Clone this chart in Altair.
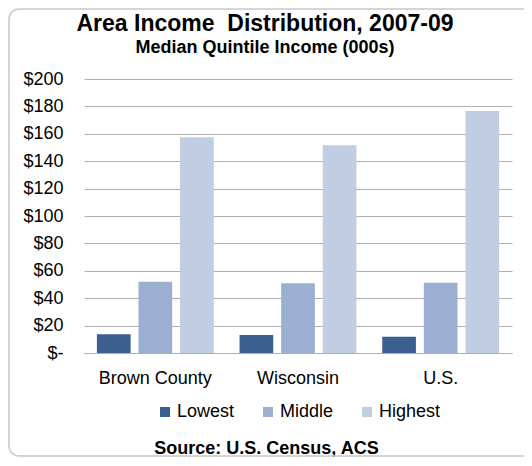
import altair as alt
import pandas as pd

regions = ["Brown County", "Wisconsin", "U.S."]
quintiles = ["Lowest", "Middle", "Highest"]
lowest = [13.6, 13.1, 11.9]
middle = [52.0, 50.9, 51.3]
highest = [157.4, 151.6, 176.6]
colors = ["#3b5f8f", "#9aafd2", "#c1cde2"]
y_ticks = [0, 20, 40, 60, 80, 100, 120, 140, 160, 180, 200]

rows = []
for i, r in enumerate(regions):
    for q, vals in zip(quintiles, [lowest, middle, highest]):
        rows.append({"region": r, "quintile": q, "value": vals[i]})
df = pd.DataFrame(rows)

FONT = "Liberation Sans"

bars = alt.Chart(df).mark_bar().encode(
    x=alt.X("region:N", sort=regions,
            scale=alt.Scale(paddingInner=0, paddingOuter=0),
            axis=alt.Axis(title="Source: U.S. Census, ACS", labelAngle=0,
                          labelFontSize=18, labelFont=FONT, labelColor="#000",
                          labelPadding=16, ticks=False, domain=True,
                          domainColor="#b0b0b0", titleFont=FONT, titleFontSize=18,
                          titleFontWeight="bold", titleColor="#000",
                          titleX=182, titleY=100, titleBaseline="alphabetic",
                          titleAlign="center")),
    xOffset=alt.XOffset("quintile:N", sort=quintiles,
                        scale=alt.Scale(paddingInner=0.19, paddingOuter=0.31)),
    y=alt.Y("value:Q", scale=alt.Scale(domain=[0, 200]),
            axis=alt.Axis(title=None, values=y_ticks, labelFontSize=18,
                          labelFont=FONT, labelColor="#000", labelPadding=21,
                          ticks=False, domain=False, gridColor="#b0b0b0",
                          labelExpr="datum.value == 0 ? '$-\u00a0\u00a0' : '$' + datum.value")),
    color=alt.Color("quintile:N", sort=quintiles,
                    scale=alt.Scale(domain=quintiles, range=colors),
                    legend=alt.Legend(title=None, orient="none", legendX=72, legendY=324,
                                      direction="horizontal", symbolType="square",
                                      symbolSize=100, symbolStrokeWidth=0,
                                      labelFontSize=18, labelFont=FONT, labelColor="#000",
                                      labelOffset=3, columnPadding=24)),
)

frame = alt.Chart(pd.DataFrame({"a": [0]})).mark_rect(
    fill=None, stroke="#c8c8c8", strokeWidth=1.5, cornerRadius=10
).encode(
    x=alt.value(-75), x2=alt.value(462), y=alt.value(-70), y2=alt.value(377)
)

chart = alt.layer(frame, bars).properties(
    width=428, height=274,
    autosize=alt.AutoSizeParams(type="none"),
    padding={"left": 76, "top": 71, "right": 12, "bottom": 105},
    title=alt.TitleParams(
        text="Area Income\u00a0 Distribution, 2007-09",
        subtitle="Median Quintile Income (000s)",
        anchor="middle", dx=-33, offset=-49,
        font=FONT, fontSize=23, fontWeight="bold", color="#000",
        subtitleFont=FONT, subtitleFontSize=18, subtitleFontWeight="bold",
        subtitleColor="#000", subtitlePadding=3,
    ),
).configure_view(stroke=None)

chart.save("out.html", embed_options={"renderer": "svg", "actions": False})
